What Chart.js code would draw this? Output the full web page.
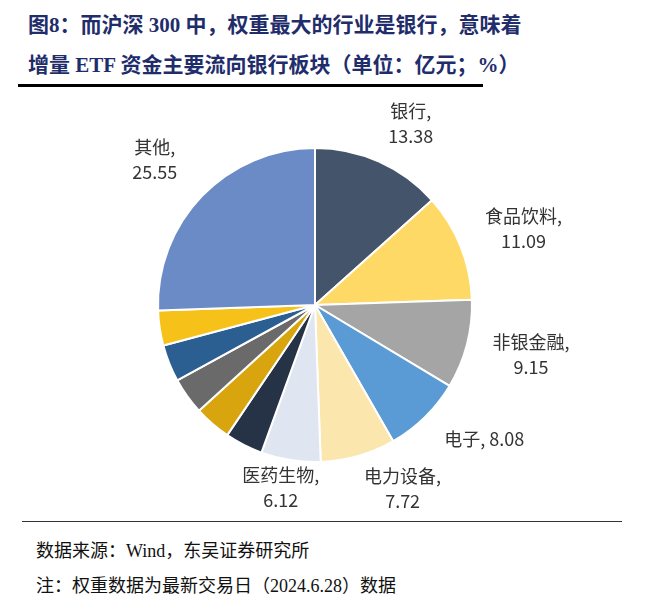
<!DOCTYPE html>
<html><head><meta charset="utf-8">
<script src="https://cdn.jsdelivr.net/npm/chart.js@4"></script>
<style>
body{margin:0;width:657px;height:602px;background:#fff;position:relative;overflow:hidden;font-family:"Noto Sans CJK SC",sans-serif}
.t{position:absolute;left:28px;font-weight:bold;font-size:21px;color:#1f2d6b;font-family:"Liberation Serif","Noto Sans CJK SC",serif;white-space:nowrap}
.f{position:absolute;left:36px;font-size:18px;color:#111;font-family:"Liberation Serif","Noto Sans CJK SC",serif;white-space:nowrap}
#wrap{position:absolute;left:0;top:90px;width:657px;height:430px}
</style></head><body>
<div class="t" style="top:8px">图8：而沪深 300 中，权重最大的行业是银行，意味着</div>
<div class="t" style="top:48px">增量 ETF 资金主要流向银行板块（单位：亿元；%）</div>
<div style="position:absolute;left:18px;top:84px;width:465px;height:3px;background:#000"></div>
<div id="wrap"><canvas id="c"></canvas></div>
<div style="position:absolute;left:22px;top:521px;width:600px;height:1px;background:#333"></div>
<div class="f" style="top:536px">数据来源：Wind，东吴证券研究所</div>
<div class="f" style="top:571px">注：权重数据为最新交易日（2024.6.28）数据</div>
<script>
const categories=["银行","食品饮料","非银金融","电子","电力设备","医药生物","其他1","其他2","其他3","其他4","其他5","其他"];
const values=[13.38,11.09,9.15,8.08,7.72,6.12,3.9,3.8,3.8,3.8,3.61,25.55];
const labelText=[["银行,","13.38"],["食品饮料,","11.09"],["非银金融,","9.15"],["电子, 8.08"],["电力设备,","7.72"],["医药生物,","6.12"],null,null,null,null,null,["其他,","25.55"]];
const colors=["#44546a","#ffd966","#a5a5a5","#5b9bd5","#fbe6ad","#dfe5f1","#263346","#d9a50e","#6a6a6a","#2b5f92","#f6c21a","#6a8bc6"];
const labelDist=[210,214,218,216,202,188,0,0,0,0,0,216];
const labelShift=[[10,10],[10,3],[5,-5],[18,-20],[32,-11],[-5,-3],0,0,0,0,0,[-5,5]];
const lbl={id:"lbl",afterDraw(ch){const ctx=ch.ctx;ctx.save();ctx.font="18px 'Noto Sans CJK SC','Liberation Sans',sans-serif";ctx.fillStyle="#333";ctx.textAlign="center";ctx.textBaseline="middle";
ch.getDatasetMeta(0).data.forEach((a,i)=>{const t=labelText[i];if(!t)return;const m=(a.startAngle+a.endAngle)/2;const x=a.x+Math.cos(m)*labelDist[i]+labelShift[i][0],y=a.y+Math.sin(m)*labelDist[i]+labelShift[i][1];
const n=t.length;t.forEach((s,k)=>ctx.fillText(s,x,y+(k-(n-1)/2)*25));});ctx.restore();}};
new Chart(document.getElementById("c"),{type:"pie",data:{labels:categories,datasets:[{data:values,backgroundColor:colors,borderColor:"#fff",borderWidth:2}]},
options:{responsive:true,maintainAspectRatio:false,animation:false,layout:{padding:{left:157,right:184,top:57,bottom:57}},plugins:{legend:{display:false},tooltip:{enabled:false}}},plugins:[lbl]});
</script></body></html>
